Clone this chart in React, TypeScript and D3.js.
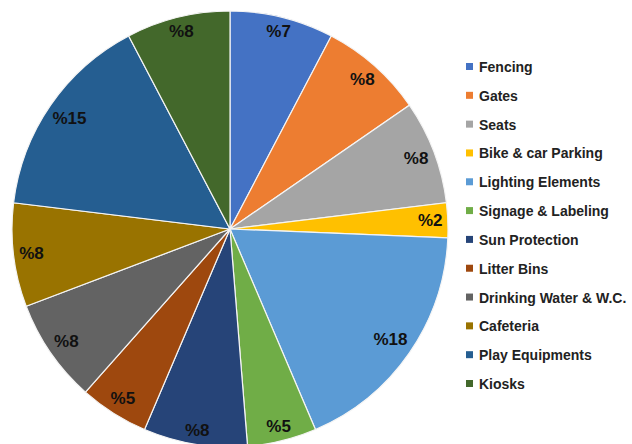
import React from "react";
import * as d3 from "d3";

const categories = [
  "Fencing",
  "Gates",
  "Seats",
  "Bike & car Parking",
  "Lighting Elements",
  "Signage & Labeling",
  "Sun Protection",
  "Litter Bins",
  "Drinking Water & W.C.",
  "Cafeteria",
  "Play Equipments",
  "Kiosks",
];
const counts = [3, 3, 3, 1, 7, 2, 3, 2, 3, 3, 6, 3];
const labels = ["%7", "%8", "%8", "%2", "%18", "%5", "%8", "%5", "%8", "%8", "%15", "%8"];
const colors = [
  "#4472C4",
  "#ED7D31",
  "#A5A5A5",
  "#FFC000",
  "#5B9BD5",
  "#70AD47",
  "#264478",
  "#9E480E",
  "#636363",
  "#997300",
  "#255E91",
  "#43682B",
];

const W = 632;
const H = 444;
const cx = 230;
const cy = 229;
const R = 218;
const labelFont = 17;

function textWidth(s: string, size: number) {
  const w: Record<string, number> = { "%": 0.889, "1": 0.556, "2": 0.556, "5": 0.556, "7": 0.556, "8": 0.556 };
  let t = 0;
  for (const c of s) t += w[c] ?? 0.556;
  return t * size;
}

export default function App() {
  const pie = d3
    .pie<number>()
    .sort(null)
    .value((d) => d);
  const arcs = pie(counts);
  const arc = d3.arc<d3.PieArcDatum<number>>().innerRadius(0).outerRadius(R);

  const legendY = d3
    .scalePoint<string>()
    .domain(categories)
    .range([67, 384]);

  return (
    <svg
      width={W}
      height={H}
      style={{ position: "absolute", left: 0, top: 0, background: "#ffffff" }}
    >
      <g transform={`translate(${cx},${cy})`}>
        {arcs.map((a, i) => (
          <path key={i} d={arc(a) || ""} fill={colors[i]} stroke="#f4f4f4" strokeWidth={1.2} />
        ))}
        {arcs.map((a, i) => {
          const mid = (a.startAngle + a.endAngle) / 2;
          const s = Math.sin(mid);
          const c = Math.cos(mid);
          const tw = textWidth(labels[i], labelFont);
          const th = 14;
          const ext = Math.abs(s) * (tw / 2) + Math.abs(c) * (th / 2);
          const rr = 213 - ext;
          return (
            <text
              key={i}
              x={s * rr}
              y={-c * rr}
              textAnchor="middle"
              dominantBaseline="central"
              fontFamily="'Liberation Sans', Arial, sans-serif"
              fontWeight="bold"
              fontSize={labelFont}
              fill="#111111"
            >
              {labels[i]}
            </text>
          );
        })}
      </g>
      <g>
        {categories.map((cat, i) => {
          const y = legendY(cat) ?? 0;
          return (
            <g key={cat}>
              <rect x={466} y={y - 4} width={7} height={7} fill={colors[i]} />
              <text
                x={479}
                y={y}
                dominantBaseline="central"
                fontFamily="'Liberation Sans', Arial, sans-serif"
                fontWeight="bold"
                fontSize={14}
                fill="#222222"
              >
                {cat}
              </text>
            </g>
          );
        })}
      </g>
    </svg>
  );
}
